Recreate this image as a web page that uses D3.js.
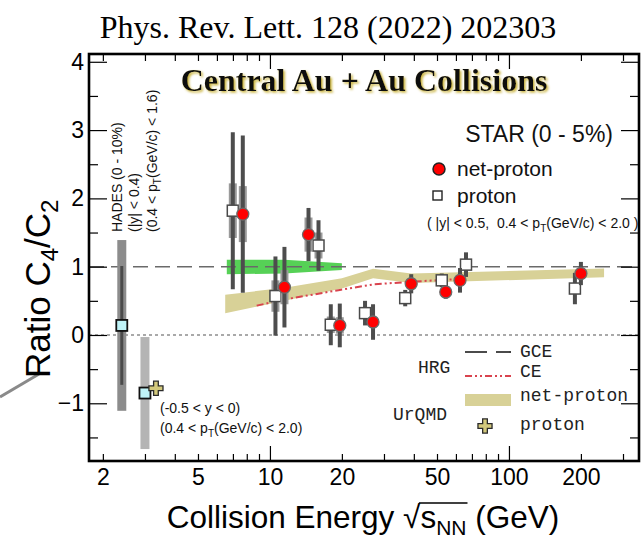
<!DOCTYPE html>
<html>
<head>
<meta charset="utf-8">
<script src="https://cdn.jsdelivr.net/npm/d3@7"></script>
<style>
  html, body { margin: 0; padding: 0; background: #fff; }
  svg { display: block; }
  text { white-space: pre; }
</style>
</head>
<body>
<svg id="chart" width="641" height="538"></svg>
<script>
// ---- STAR Beam Energy Scan, 0-5% central Au+Au: C4/C2 ----
const energies      = [7.7, 11.5, 14.5, 19.6, 27, 39, 54.4, 62.4, 200];
const netProton     = [1.77, 0.70, 1.47, 0.14, 0.19, 0.75, 0.63, 0.80, 0.90];
const netProtonStat = [1.15, 0.59, 0.39, 0.32, 0.26, 0.14, 0.10, 0.18, 0.17];
const netProtonSys  = [0.41, 0.25, 0.25, 0.12, 0.08, 0.08, 0.08, 0.08, 0.08];
const proton        = [1.82, 0.57, 1.31, 0.15, 0.32, 0.54, 0.80, 1.03, 0.68];
const protonStat    = [1.15, 0.58, 0.37, 0.30, 0.18, 0.12, 0.10, 0.18, 0.23];
const protonSys     = [0.40, 0.23, 0.19, 0.12, 0.08, 0.07, 0.07, 0.07, 0.08];

// HADES (0-10%) proton at 2.4 GeV
const hadesEnergy = [2.4];
const hadesValue  = [0.14];
const hadesStat   = [0.87];
const hadesSys    = [1.25];

// STAR fixed-target proton at 3 GeV
const fxtEnergy = [3.0];
const fxtValue  = [-0.85];
const fxtStat   = [0.08];
const fxtSys    = [0.82];

// UrQMD proton at 3 GeV
const urqmdProtonEnergy = [3.0];
const urqmdProtonValue  = [-0.78];

// UrQMD net-proton band
const urqmdBandE  = [6.5, 11.5, 20, 27, 39, 250];
const urqmdBandLo = [0.32, 0.50, 0.68, 0.83, 0.76, 0.845];
const urqmdBandHi = [0.59, 0.69, 0.83, 0.97, 0.90, 0.975];

// green band
const greenBandE  = [6.6, 11.5, 20];
const greenBandLo = [0.89, 0.90, 0.95];
const greenBandHi = [1.10, 1.10, 1.05];

// HRG canonical ensemble
const hrgCeE = [8.8, 11.5, 14.5, 19.6, 27, 39, 62.4];
const hrgCeV = [0.43, 0.52, 0.58, 0.66, 0.74, 0.78, 0.82];

// HRG grand canonical ensemble
const hrgGceValue = 1;

// axis ticks
const xTickLabels = [2, 5, 10, 20, 50, 100, 200];
const xMajorTicks = [10, 100];
const xMinorTicks = [2, 3, 4, 5, 6, 7, 8, 9, 20, 30, 40, 50, 60, 70, 80, 90, 200, 300];
const yTickLabels = [-1, 0, 1, 2, 3, 4];
const yMinorTicks = [-1.5, -0.5, 0.5, 1.5, 2.5, 3.5];

// ---- layout ----
const svg = d3.select("#chart");
const L = 89, R = 639, T = 54, B = 461;
const x = d3.scaleLog().domain([1.75, 350]).range([L, R]);
const y = d3.scaleLinear().domain([-1.845, 4.114]).range([B, T]);

const SANS = "'Liberation Sans', Arial, Helvetica, sans-serif";
const SERIF = "'Liberation Serif', 'Times New Roman', serif";
const MONO = "'Liberation Mono', 'Courier New', monospace";

const defs = svg.append("defs");
defs.append("clipPath").attr("id", "plotClip")
  .append("rect").attr("x", L).attr("y", T).attr("width", R - L).attr("height", B - T);
defs.append("filter").attr("id", "goldShadow")
  .attr("x", "-5%").attr("y", "-20%").attr("width", "110%").attr("height", "140%")
  .append("feDropShadow").attr("dx", 1.6).attr("dy", 1.6).attr("stdDeviation", 0.8)
  .attr("flood-color", "#c9b23a").attr("flood-opacity", 1);

// stray gray stroke at the lower left margin
svg.append("line").attr("x1", 0).attr("y1", 397).attr("x2", 39).attr("y2", 374)
  .attr("stroke", "#8a8a8a").attr("stroke-width", 3);

// page title
svg.append("text").attr("x", 328).attr("y", 38).attr("text-anchor", "middle")
  .attr("font-family", SERIF).attr("font-size", 32).attr("fill", "#000")
  .text("Phys. Rev. Lett. 128 (2022) 202303");

const plot = svg.append("g").attr("clip-path", "url(#plotClip)");

// bands
const bandArea = (E, lo, hi) => d3.area()
  .x((d, i) => x(E[i])).y0((d, i) => y(lo[i])).y1((d, i) => y(hi[i]))(E);
plot.append("path").attr("d", bandArea(greenBandE, greenBandLo, greenBandHi))
  .attr("fill", "#56d156");
plot.append("path").attr("d", bandArea(urqmdBandE, urqmdBandLo, urqmdBandHi))
  .attr("fill", "#d8d197");

// reference lines
plot.append("line").attr("x1", L).attr("x2", R)
  .attr("y1", y(hrgGceValue)).attr("y2", y(hrgGceValue))
  .attr("stroke", "#6a6a6a").attr("stroke-width", 1.6).attr("stroke-dasharray", "15,7");
plot.append("line").attr("x1", L).attr("x2", R)
  .attr("y1", y(0)).attr("y2", y(0))
  .attr("stroke", "#555").attr("stroke-width", 1.1).attr("stroke-dasharray", "3,3");

// HRG CE line
plot.append("path")
  .attr("d", d3.line().x((d, i) => x(hrgCeE[i])).y((d, i) => y(hrgCeV[i]))(hrgCeE))
  .attr("fill", "none").attr("stroke", "#d9434e").attr("stroke-width", 2)
  .attr("stroke-dasharray", "7,3,2,3,2,3");

// error bar helper
function errorBars(g, E, V, stat, sys, shift, opt) {
  const xs = E.map((e, i) => x(e) + (shift ? shift[i] : 0));
  g.selectAll(null).data(E).join("rect")
    .attr("x", (d, i) => xs[i] - opt.sysW / 2)
    .attr("y", (d, i) => y(V[i] + sys[i]))
    .attr("width", opt.sysW)
    .attr("height", (d, i) => y(V[i] - sys[i]) - y(V[i] + sys[i]))
    .attr("fill", opt.sysColor);
  g.selectAll(null).data(E).join("line")
    .attr("x1", (d, i) => xs[i]).attr("x2", (d, i) => xs[i])
    .attr("y1", (d, i) => y(V[i] + stat[i])).attr("y2", (d, i) => y(V[i] - stat[i]))
    .attr("stroke", opt.statColor).attr("stroke-width", opt.statW);
  return xs;
}

// HADES
const gH = plot.append("g");
const hx = errorBars(gH, hadesEnergy, hadesValue, hadesStat, hadesSys, null,
  { sysW: 9, sysColor: "#8c8c8c", statW: 3, statColor: "#4a4a4a" });
gH.selectAll(null).data(hadesEnergy).join("rect")
  .attr("x", (d, i) => hx[i] - 5.5).attr("y", (d, i) => y(hadesValue[i]) - 5.5)
  .attr("width", 11).attr("height", 11)
  .attr("fill", "#bff3f7").attr("stroke", "#111").attr("stroke-width", 1.8);

// STAR FXT 3 GeV
const gF = plot.append("g");
const fx = errorBars(gF, fxtEnergy, fxtValue, fxtStat, fxtSys, null,
  { sysW: 9, sysColor: "#b4b4b4", statW: 3, statColor: "#4a4a4a" });

// UrQMD proton (cross), slightly to the right of the 3 GeV point
const urqmdShift = [11];
plot.selectAll(null).data(urqmdProtonEnergy).join("path")
  .attr("transform", (d, i) => `translate(${x(d) + urqmdShift[i]},${y(urqmdProtonValue[i])})`)
  .attr("d", d3.symbol(d3.symbolCross, 110))
  .attr("fill", "#d3c97c").attr("stroke", "#2a2a2a").attr("stroke-width", 1.3);

gF.selectAll(null).data(fxtEnergy).join("rect")
  .attr("x", (d, i) => fx[i] - 5.5).attr("y", (d, i) => y(fxtValue[i]) - 5.5)
  .attr("width", 11).attr("height", 11)
  .attr("fill", "#bff3f7").attr("stroke", "#111").attr("stroke-width", 1.8);

// STAR BES: proton points drawn beside the net-proton points
const protonShift = [-10, -9, 10, -9, -8, -6, -4, 6, -6];
const gP = plot.append("g");
const px = errorBars(gP, energies, proton, protonStat, protonSys, protonShift,
  { sysW: 8, sysColor: "#9a9a9a", statW: 4, statColor: "#4d4d4d" });
const gN = plot.append("g");
const nx = errorBars(gN, energies, netProton, netProtonStat, netProtonSys, null,
  { sysW: 8, sysColor: "#9a9a9a", statW: 4, statColor: "#4d4d4d" });

gP.selectAll(null).data(energies).join("rect")
  .attr("x", (d, i) => px[i] - 5.5).attr("y", (d, i) => y(proton[i]) - 5.5)
  .attr("width", 11).attr("height", 11)
  .attr("fill", "#fff").attr("stroke", "#4a4a4a").attr("stroke-width", 1.5);
gN.selectAll(null).data(energies).join("circle")
  .attr("cx", (d, i) => nx[i]).attr("cy", (d, i) => y(netProton[i])).attr("r", 6)
  .attr("fill", "#ff0000").attr("stroke", "#6a6a6a").attr("stroke-width", 1.3);

// ---- axes (ticks pointing inward, mirrored on top/right) ----
function axisTicks(axisFn, scale, values, size, tx, ty) {
  svg.append("g").attr("transform", `translate(${tx},${ty})`)
    .call(axisFn(scale).tickValues(values).tickSize(size).tickFormat(""))
    .call(g => g.select(".domain").remove())
    .call(g => g.selectAll("line").attr("stroke", "#000").attr("stroke-width", 1.2));
}
axisTicks(d3.axisBottom, x, xMajorTicks, -15, 0, B);
axisTicks(d3.axisBottom, x, xMinorTicks, -7, 0, B);
axisTicks(d3.axisTop, x, xMajorTicks, -15, 0, T);
axisTicks(d3.axisTop, x, xMinorTicks, -7, 0, T);
axisTicks(d3.axisLeft, y, yTickLabels, -18, L, 0);
axisTicks(d3.axisLeft, y, yMinorTicks, -9, L, 0);
axisTicks(d3.axisRight, y, yTickLabels, -18, R, 0);
axisTicks(d3.axisRight, y, yMinorTicks, -9, R, 0);

// tick labels
svg.append("g").attr("transform", `translate(0,${B})`)
  .call(d3.axisBottom(x).tickValues(xTickLabels).tickSize(0).tickPadding(8)
    .tickFormat(d3.format("d")))
  .call(g => g.select(".domain").remove())
  .call(g => g.selectAll("text").attr("font-family", SANS).attr("font-size", 23)
    .attr("fill", "#000").attr("dy", "0.71em"));
svg.append("g").attr("transform", `translate(${L - 5},0)`)
  .call(d3.axisLeft(y).tickValues(yTickLabels).tickSize(0).tickPadding(0)
    .tickFormat(d3.format("d")))
  .call(g => g.select(".domain").remove())
  .call(g => g.selectAll("text").attr("font-family", SANS).attr("font-size", 23)
    .attr("fill", "#000"));

// frame
svg.append("rect").attr("x", L).attr("y", T).attr("width", R - L).attr("height", B - T)
  .attr("fill", "none").attr("stroke", "#000").attr("stroke-width", 2.6);

// axis titles
const yTitle = svg.append("text")
  .attr("transform", "translate(50,378) rotate(-90)")
  .attr("text-anchor", "start")
  .attr("font-family", SANS).attr("font-size", 35).attr("fill", "#000");
yTitle.append("tspan").text("Ratio C");
yTitle.append("tspan").attr("font-size", 24).attr("dy", 8).text("4");
yTitle.append("tspan").attr("dy", -8).text("/C");
yTitle.append("tspan").attr("font-size", 24).attr("dy", 8).text("2");

const xTitleY = 528;
const xTitle = svg.append("text").attr("x", 363).attr("y", xTitleY)
  .attr("text-anchor", "middle")
  .attr("font-family", SANS).attr("font-size", 31.5).attr("fill", "#000");
xTitle.append("tspan").text("Collision Energy ");
xTitle.append("tspan").attr("font-weight", 300).text("\u221A");
xTitle.append("tspan").text("s");
xTitle.append("tspan").attr("font-size", 21).attr("dy", 7).text("NN");
xTitle.append("tspan").attr("dy", -7).text(" (GeV)");
// overline of the square root over s_NN
{
  const node = xTitle.node();
  const full = node.textContent;
  const iRoot = full.indexOf("\u221A");
  const iN2 = iRoot + 3;
  const rootEnd = node.getEndPositionOfChar(iRoot);
  const nEnd = node.getEndPositionOfChar(iN2);
  const topY = xTitleY - 25;
  svg.append("line").attr("x1", rootEnd.x - 1.5).attr("x2", nEnd.x + 1)
    .attr("y1", topY).attr("y2", topY).attr("stroke", "#000").attr("stroke-width", 1.3);
}

// panel heading with soft golden shadow
svg.append("text").attr("x", 364).attr("y", 91).attr("text-anchor", "middle")
  .attr("font-family", SERIF).attr("font-weight", "bold").attr("font-size", 32)
  .attr("fill", "#111").attr("filter", "url(#goldShadow)")
  .text("Central Au + Au Collisions");

// STAR legend
svg.append("text").attr("x", 613).attr("y", 142).attr("text-anchor", "end")
  .attr("font-family", SANS).attr("font-size", 23).attr("fill", "#111")
  .text("STAR (0 - 5%)");
svg.append("circle").attr("cx", 439).attr("cy", 169).attr("r", 6)
  .attr("fill", "#ff0000").attr("stroke", "#222").attr("stroke-width", 1.5);
svg.append("text").attr("x", 457).attr("y", 176)
  .attr("font-family", SANS).attr("font-size", 21).attr("fill", "#111").text("net-proton");
svg.append("rect").attr("x", 433).attr("y", 191).attr("width", 9).attr("height", 9)
  .attr("fill", "#fff").attr("stroke", "#222").attr("stroke-width", 1.4);
svg.append("text").attr("x", 457).attr("y", 203)
  .attr("font-family", SANS).attr("font-size", 21).attr("fill", "#111").text("proton");
{
  const t = svg.append("text").attr("x", 427).attr("y", 228)
    .attr("font-family", SANS).attr("font-size", 14).attr("fill", "#111");
  t.append("tspan").text("( |y| < 0.5,  0.4 < p");
  t.append("tspan").attr("font-size", 10).attr("dy", 4).text("T");
  t.append("tspan").attr("dy", -4).text("(GeV/c) < 2.0 )");
}

// HADES labels (vertical)
{
  const g = svg.append("g").attr("font-family", SANS).attr("font-size", 14).attr("fill", "#111");
  g.append("text").attr("transform", "translate(121.5,232) rotate(-90)").text("HADES (0 - 10%)");
  g.append("text").attr("transform", "translate(138.5,232) rotate(-90)").text("(|y| < 0.4)");
  const t = g.append("text").attr("transform", "translate(157,232) rotate(-90)");
  t.append("tspan").text("(0.4 < p");
  t.append("tspan").attr("font-size", 10).attr("dy", 4).text("T");
  t.append("tspan").attr("dy", -4).text("(GeV/c) < 1.6)");
}

// FXT acceptance labels
{
  const g = svg.append("g").attr("font-family", SANS).attr("font-size", 14).attr("fill", "#111");
  g.append("text").attr("x", 160).attr("y", 413).text("(-0.5 < y < 0)");
  const t = g.append("text").attr("x", 160).attr("y", 433);
  t.append("tspan").text("(0.4 < p");
  t.append("tspan").attr("font-size", 10).attr("dy", 4).text("T");
  t.append("tspan").attr("dy", -4).text("(GeV/c) < 2.0)");
}

// model legend
{
  const g = svg.append("g").attr("font-family", MONO).attr("font-size", 18).attr("fill", "#222");
  g.append("text").attr("x", 418).attr("y", 373).text("HRG");
  g.append("text").attr("x", 393).attr("y", 420).text("UrQMD");
  g.append("text").attr("x", 520).attr("y", 357).text("GCE");
  g.append("text").attr("x", 520).attr("y", 377).text("CE");
  g.append("text").attr("x", 520).attr("y", 401).text("net-proton");
  g.append("text").attr("x", 520).attr("y", 430).text("proton");
  svg.append("line").attr("x1", 465).attr("x2", 511).attr("y1", 352).attr("y2", 352)
    .attr("stroke", "#111").attr("stroke-width", 1.6).attr("stroke-dasharray", "22,9");
  svg.append("line").attr("x1", 465).attr("x2", 511).attr("y1", 376).attr("y2", 376)
    .attr("stroke", "#d9434e").attr("stroke-width", 2).attr("stroke-dasharray", "7,3,2,3,2,3");
  svg.append("rect").attr("x", 465).attr("y", 394).attr("width", 46).attr("height", 12)
    .attr("fill", "#d8d197");
  svg.append("path").attr("transform", "translate(485,426)")
    .attr("d", d3.symbol(d3.symbolCross, 110))
    .attr("fill", "#d3c97c").attr("stroke", "#2a2a2a").attr("stroke-width", 1.3);
}
</script>
</body>
</html>
